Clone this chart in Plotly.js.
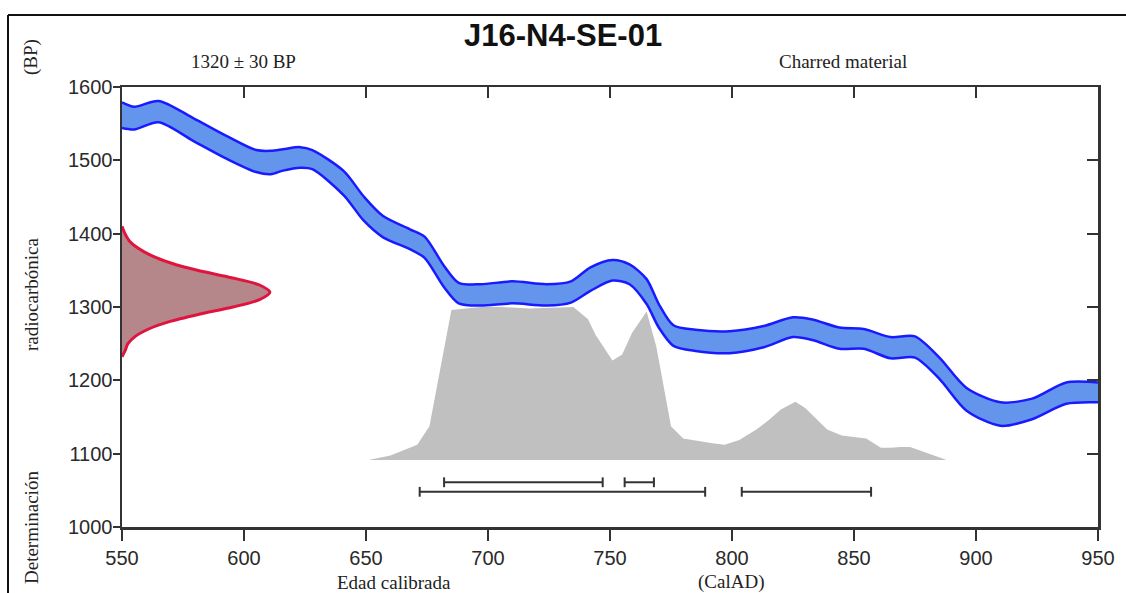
<!DOCTYPE html>
<html>
<head>
<meta charset="utf-8">
<script src="https://cdn.plot.ly/plotly-3.0.1.min.js"></script>
<style>html,body{margin:0;padding:0;background:#fff;}#chart{width:1126px;height:593px;}</style>
</head>
<body>
<div id="chart"></div>
<script>
// Calibration curve (calendar year AD, upper / lower edge in BP)
const curveYears = [550,555,565,579,593,605,611,616,623,628,641,649,657,668,674,682,688,697,710,724,734,742,751,758,765,770,776,785,799,813,825,833,844,854,865,875,885,896,910,923,937,950];
const curveUpper = [1579,1573,1581,1558,1533,1514,1513,1515,1518,1514,1485,1451,1424,1406,1396,1356,1333,1331,1335,1331,1335,1354,1364,1358,1338,1304,1275,1269,1267,1274,1286,1283,1272,1270,1259,1260,1231,1190,1170,1175,1197,1197];
const curveLower = [1544,1542,1552,1527,1502,1484,1481,1486,1490,1488,1452,1418,1395,1379,1367,1327,1305,1302,1305,1302,1306,1322,1336,1331,1304,1272,1247,1240,1237,1245,1259,1255,1243,1243,1230,1231,1202,1159,1138,1147,1168,1170];

// Radiocarbon measurement distribution (BP, relative density)
const measBP = [1232,1240,1250,1260,1270,1280,1290,1300,1310,1320,1330,1340,1350,1360,1370,1380,1390,1400,1410];
const measDensity = [0.0,0.02,0.04,0.09,0.18,0.32,0.52,0.75,0.93,1.0,0.93,0.74,0.51,0.33,0.20,0.11,0.05,0.02,0.0];

// Calibrated probability distribution (calendar year AD, relative density)
const calYears = [651,660,671,676,685,697,706,717,735,741,744,751,755,759,765,769,775,780,792,797,803,810,815,820,826,830,839,845,855,861,865,869,873,879,884,888];
const calDensity = [0.0,0.03,0.10,0.22,0.98,1.0,1.0,0.99,1.0,0.92,0.82,0.65,0.69,0.83,0.97,0.74,0.22,0.14,0.11,0.10,0.13,0.20,0.26,0.33,0.38,0.34,0.20,0.16,0.14,0.08,0.08,0.085,0.085,0.05,0.02,0.0];

// Calibrated ranges (calendar year AD)
const range1Sigma = [[682,747],[756,768]];
const range2Sigma = [[672,789],[804,857]];

// Tick values / texts
const xTicks = [550,600,650,700,750,800,850,900,950];
const yTicks = [1000,1100,1200,1300,1400,1500,1600];

const titleText = 'J16-N4-SE-01';
const measText = '1320 \u00b1 30 BP';
const materialText = 'Charred material';

const sans = 'Liberation Sans, Arial, sans-serif';
const serif = 'Liberation Serif, Times New Roman, serif';
const axisCol = '#333333';
const blueLine = '#1a1aff';
const blueFill = '#6495ed';

const traces = [];
// gray calibrated distribution (main subplot, drawn first)
traces.push({x: calYears, y: calDensity, xaxis: 'x', yaxis: 'y', mode: 'lines', fill: 'tozeroy',
  fillcolor: '#c0c0c0', line: {width: 0, color: '#c0c0c0'}, hoverinfo: 'skip', showlegend: false});
// blue calibration band
traces.push({x: curveYears, y: curveLower, xaxis: 'x', yaxis: 'y2', mode: 'lines',
  line: {color: blueLine, width: 2.5, shape: 'spline', smoothing: 0.8}, hoverinfo: 'skip', showlegend: false});
traces.push({x: curveYears, y: curveUpper, xaxis: 'x', yaxis: 'y2', mode: 'lines', fill: 'tonexty',
  fillcolor: blueFill, line: {color: blueLine, width: 2.5, shape: 'spline', smoothing: 0.8}, hoverinfo: 'skip', showlegend: false});
// red measurement distribution
traces.push({x: measDensity, y: measBP, xaxis: 'x2', yaxis: 'y2', mode: 'lines', fill: 'tozerox',
  fillcolor: '#b5868a', line: {color: '#e0153f', width: 3, shape: 'spline', smoothing: 0.8}, hoverinfo: 'skip', showlegend: false});
// range bars
const rowLevels = [1061, 1048];
[range1Sigma, range2Sigma].forEach((rs, i) => {
  rs.forEach(r => {
    traces.push({x: r, y: [rowLevels[i], rowLevels[i]], xaxis: 'x', yaxis: 'y2', mode: 'lines+markers',
      line: {color: axisCol, width: 2},
      marker: {symbol: 'line-ns', size: 7, line: {color: axisCol, width: 2}},
      hoverinfo: 'skip', showlegend: false});
  });
});
// dummy for mirror axes
traces.push({x: [550], y: [1000], xaxis: 'x3', yaxis: 'y3', mode: 'markers', marker: {opacity: 0}, hoverinfo: 'skip', showlegend: false});

const px = v => (v - 122) / 976;      // pixel -> paper x
const py = v => (527 - v) / 440;      // pixel -> paper y

const tickFont = {family: sans, size: 20, color: '#2a2a2a'};
const serifFont = {family: serif, size: 19, color: '#222222'};

const layout = {
  width: 1126, height: 593,
  margin: {l: 122, r: 28, t: 87, b: 66},
  paper_bgcolor: '#ffffff', plot_bgcolor: '#ffffff',
  showlegend: false,
  xaxis: {range: [550, 950], tickvals: xTicks, ticktext: xTicks.map(String), ticks: 'outside', ticklen: 11, tickwidth: 2,
    tickcolor: axisCol, showline: true, linecolor: axisCol, linewidth: 2.5, showgrid: false, zeroline: false,
    tickfont: tickFont, fixedrange: true},
  yaxis: {range: [-0.438, 2.438], showline: false, showticklabels: false, ticks: '', showgrid: false, zeroline: false, fixedrange: true},
  yaxis2: {overlaying: 'y', side: 'left', range: [1000, 1600], tickvals: yTicks, ticktext: yTicks.map(String), ticks: 'outside', ticklen: 7, tickwidth: 2,
    tickcolor: axisCol, showline: true, linecolor: axisCol, linewidth: 2.5, showgrid: false, zeroline: false,
    ticklabelstandoff: -4, tickfont: tickFont, fixedrange: true},
  xaxis2: {overlaying: 'x', range: [0, 6.6], visible: false, showgrid: false, zeroline: false, fixedrange: true},
  xaxis3: {overlaying: 'x', side: 'top', range: [550, 950], tickvals: xTicks, ticks: 'inside', ticklen: 11, tickwidth: 2,
    tickcolor: axisCol, showline: true, linecolor: axisCol, linewidth: 2.5, showticklabels: false, showgrid: false, zeroline: false, fixedrange: true},
  yaxis3: {overlaying: 'y', side: 'right', anchor: 'x', range: [1000, 1600], tickvals: yTicks, ticks: 'inside', ticklen: 11, tickwidth: 2,
    tickcolor: axisCol, showline: true, linecolor: axisCol, linewidth: 2.5, showticklabels: false, showgrid: false, zeroline: false, fixedrange: true},
  annotations: [
    {text: '<b>' + titleText + '</b>', xref: 'paper', yref: 'paper', x: px(563), y: py(36), xanchor: 'center', yanchor: 'middle', showarrow: false,
      font: {family: sans, size: 31, color: '#111111'}},
    {text: measText, xref: 'paper', yref: 'paper', x: px(243), y: py(61), xanchor: 'center', yanchor: 'middle', showarrow: false, font: serifFont},
    {text: materialText, xref: 'paper', yref: 'paper', x: px(843), y: py(62), xanchor: 'center', yanchor: 'middle', showarrow: false, font: serifFont},
    {text: 'Edad calibrada', xref: 'paper', yref: 'paper', x: px(394), y: py(582), xanchor: 'center', yanchor: 'middle', showarrow: false, font: serifFont},
    {text: '(CalAD)', xref: 'paper', yref: 'paper', x: px(731), y: py(582), xanchor: 'center', yanchor: 'middle', showarrow: false, font: serifFont},
    {text: '(BP)', textangle: -90, xref: 'paper', yref: 'paper', x: px(31), y: py(57), xanchor: 'center', yanchor: 'middle', showarrow: false, font: serifFont},
    {text: 'radiocarbónica', textangle: -90, xref: 'paper', yref: 'paper', x: px(31), y: py(295), xanchor: 'center', yanchor: 'middle', showarrow: false, font: serifFont},
    {text: 'Determinación', textangle: -90, xref: 'paper', yref: 'paper', x: px(31), y: py(528), xanchor: 'center', yanchor: 'middle', showarrow: false, font: serifFont}
  ],
  shapes: [
    {type: 'line', xref: 'paper', yref: 'paper', x0: px(8), x1: px(8), y0: py(15), y1: py(600), line: {color: '#111111', width: 2}},
    {type: 'line', xref: 'paper', yref: 'paper', x0: px(8), x1: px(1130), y0: py(15), y1: py(15), line: {color: '#111111', width: 2}}
  ]
};

Plotly.newPlot('chart', traces, layout, {staticPlot: true, displayModeBar: false});
</script>
</body>
</html>
